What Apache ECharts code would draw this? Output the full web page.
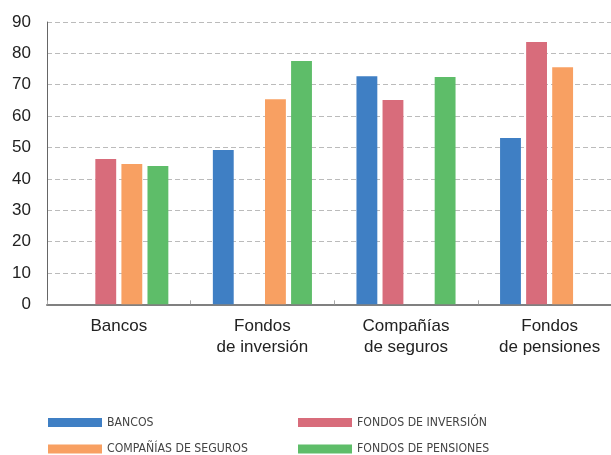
<!DOCTYPE html>
<html>
<head>
<meta charset="utf-8">
<script src="https://cdn.jsdelivr.net/npm/echarts@6/dist/echarts.min.js"></script>
<style>html,body{margin:0;padding:0;background:#fff;overflow:hidden;width:611px;height:455px}#c{width:622px;height:455px}</style>
</head>
<body>
<div id="c"></div>
<script>
var categories = ['Bancos', 'Fondos\nde inversión', 'Compañías\nde seguros', 'Fondos\nde pensiones'];
var seriesNames = ['BANCOS', 'FONDOS DE INVERSIÓN', 'COMPAÑÍAS DE SEGUROS', 'FONDOS DE PENSIONES'];
var bancos = [null, 49.2, 72.7, 53.0];
var fondosInversion = [46.3, null, 65.1, 83.6];
var companiasSeguros = [44.7, 65.4, null, 75.6];
var fondosPensiones = [44.1, 77.6, 72.5, null];
var colors = ['#3f7fc4', '#d86c7b', '#f8a062', '#5ebd69'];
var yTicks = [0, 90, 10];

var values = [bancos, fondosInversion, companiasSeguros, fondosPensiones];
var chart = echarts.init(document.getElementById('c'), null, {renderer: 'canvas'});
var font = 'Liberation Sans, Arial, sans-serif';
var legendText = {color: '#444', fontSize: 12.2, lineHeight: 14,
  fontFamily: 'DejaVu Sans Condensed, Liberation Sans Narrow, Liberation Sans, sans-serif'};
var legendPos = [[48, 415.5], [298, 415.5], [48, 442], [298, 442]];
var legendOrder = [0, 1, 2, 3];
chart.setOption({
  animation: false,
  color: colors,
  grid: {left: 47, right: 0.6, top: 22, bottom: 150.7, containLabel: false},
  legend: legendOrder.map(function (i) {
    return {data: [seriesNames[i]], left: legendPos[i][0], top: legendPos[i][1], padding: 0,
      itemWidth: 54, itemHeight: 9, icon: 'rect', textStyle: legendText, selectedMode: false};
  }),
  xAxis: {type: 'category', data: categories,
    axisLine: {show: true, lineStyle: {color: '#808080', width: 2}},
    axisTick: {show: true, inside: true, length: 4, lineStyle: {color: '#aaa'}},
    axisLabel: {color: '#222', fontSize: 17, fontFamily: font, lineHeight: 21, margin: 12}},
  yAxis: {type: 'value', min: yTicks[0], max: yTicks[1], interval: yTicks[2],
    axisLine: {show: true, lineStyle: {color: '#666', width: 1}},
    axisTick: {show: false},
    axisLabel: {color: '#222', fontSize: 17, fontFamily: font, margin: 16},
    splitLine: {show: true, lineStyle: {color: '#bbb', type: [5, 3], width: 1}}},
  series: seriesNames.map(function (n, i) {
    return {name: n, type: 'bar', data: values[i],
            barGap: '25%', barCategoryGap: '31%', itemStyle: {color: colors[i]}};
  })
});
</script>
</body>
</html>
